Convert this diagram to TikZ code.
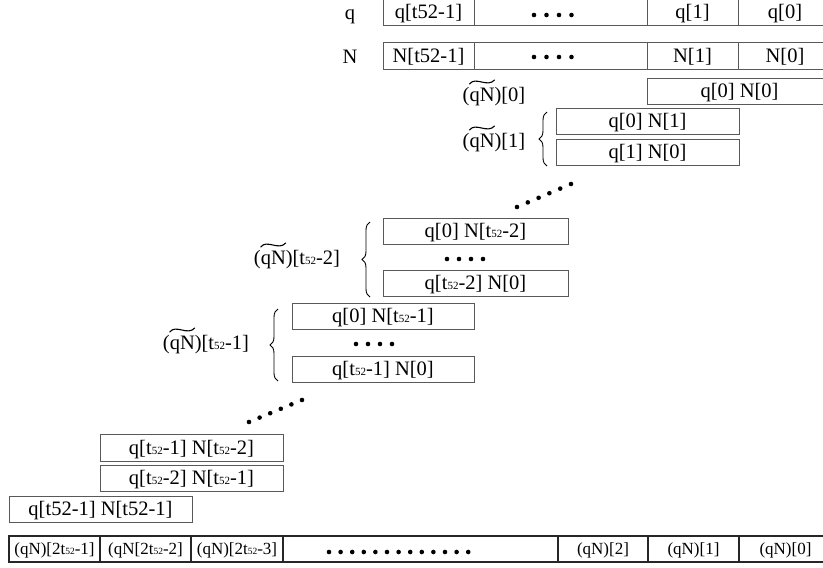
\documentclass[tikz,border=0pt]{standalone}
\usepackage{fontspec}
\setmainfont{Liberation Serif}
\usetikzlibrary{decorations.pathreplacing}
\newcommand\bigf{\fontsize{20.5}{22}\selectfont}
\newcommand\smallf{\fontsize{17}{18}\selectfont}
\newcommand\tq{t{\fontsize{11}{11}\selectfont 52}}
\newcommand\tqs{t{\fontsize{9.5}{9.5}\selectfont 52}}
\newcommand\mycell[7][]{\node[cell,#1,minimum width={#5-#3},minimum height={#6-#4}] (#2) at ({(#3+#5)/2},{(#4+#6)/2}) {#7};}
\newcommand\tildeover[1]{\draw[tl,shift={(#1.base west)}] (7,-17) .. controls (13,-25) and (25,-13) .. (32,-21);}
\tikzset{
  cell/.style={draw=black!65, line width=1pt, inner sep=0pt, font=\bigf, text height=14pt, text depth=1pt},
  bot/.style={draw=black!85, line width=1.4pt, font=\smallf, text height=12pt, text depth=1pt},
  lbl/.style={inner sep=0pt, font=\bigf, anchor=base},
  tl/.style={line width=1.1pt, line cap=round},
  brc/.style={decorate, decoration={brace, amplitude=8pt}, line width=0.9pt},
  dot/.style={fill=black}
}
\begin{document}
\begin{tikzpicture}[x=1pt,y=-1pt]
\useasboundingbox (0,0) rectangle (823,568);
% top rows
\node[lbl] (lq) at (350,19) {q};
\node[lbl] (lN) at (350,63) {N};
\mycell{q3}{383}{-2}{474}{25}{q[t52-1]}
\mycell{q2}{474}{-2}{647}{25}{}
\mycell{q1}{647}{-2}{738}{25}{q[1]}
\mycell{q0}{738}{-2}{832}{25}{q[0]}
\mycell{n3}{383}{42}{474}{69}{N[t52-1]}
\mycell{n2}{474}{42}{647}{69}{}
\mycell{n1}{647}{42}{738}{69}{N[1]}
\mycell{n0}{738}{42}{832}{69}{N[0]}
\foreach \i in {0,...,3}{
  \fill[dot] (534+12.5*\i,15) circle (2.3);
  \fill[dot] (534+12.5*\i,57) circle (2.3);
}
% partial products
\node[lbl] (l0) at (494,101) {(qN)[0]};
\tildeover{l0}
\mycell{a00}{647}{78}{832}{104}{q[0] N[0]}
\node[lbl] (l1) at (494,147) {(qN)[1]};
\tildeover{l1}
\mycell{a01}{556}{108}{739}{134}{q[0] N[1]}
\mycell{a10}{556}{139}{739}{165}{q[1] N[0]}
\coordinate (b1s) at (547,166);
\coordinate (b1e) at (547,112);
\draw[brc] (b1s) -- (b1e);
\foreach \i in {0,...,5}{
  \fill[dot] ({517+10.8*\i},{207-4.6*\i}) circle (2.3);
}
\node[lbl] (l2) at (297,264) {(qN)[\tq-2]};
\tildeover{l2}
\mycell{a0t2}{383}{218}{568}{244}{q[0] N[\tq-2]}
\foreach \i in {0,...,3}{
  \fill[dot] (447+12*\i,259) circle (2.3);
}
\mycell{at20}{383}{270}{568}{296}{q[\tq-2] N[0]}
\coordinate (b2s) at (370,297);
\coordinate (b2e) at (370,222);
\draw[brc] (b2s) -- (b2e);
\node[lbl] (l3) at (206,349) {(qN)[\tq-1]};
\tildeover{l3}
\mycell{a0t1}{292}{303}{474}{329}{q[0] N[\tq-1]}
\foreach \i in {0,...,3}{
  \fill[dot] (356+12*\i,344) circle (2.3);
}
\mycell{at10}{292}{356}{474}{382}{q[\tq-1] N[0]}
\coordinate (b3s) at (278,381);
\coordinate (b3e) at (278,309);
\draw[brc] (b3s) -- (b3e);
\foreach \i in {0,...,5}{
  \fill[dot] ({249+10.6*\i},{422-4.4*\i}) circle (2.3);
}
\mycell{at1t2}{100}{434}{283}{461}{q[\tq-1] N[\tq-2]}
\mycell{at2t1}{100}{465}{283}{491}{q[\tq-2] N[\tq-1]}
\mycell{at1t1}{9}{496}{192}{522}{q[t52-1] N[t52-1]}
% result row
\mycell[bot]{r6}{9}{536}{100}{562}{(qN)[2\tqs-1]}
\mycell[bot]{r5}{100}{536}{191}{562}{(qN[2\tqs-2]}
\mycell[bot]{r4}{191}{536}{283}{562}{(qN)[2\tqs-3]}
\mycell[bot]{r3}{283}{536}{558}{562}{}
\mycell[bot]{r2}{558}{536}{648}{562}{(qN)[2]}
\mycell[bot]{r1}{648}{536}{739}{562}{(qN)[1]}
\mycell[bot]{r0}{739}{536}{832}{562}{(qN)[0]}
\foreach \i in {0,...,12}{
  \fill[dot] ({329+11.6*\i},552) circle (2.3);
}
\end{tikzpicture}
\end{document}
